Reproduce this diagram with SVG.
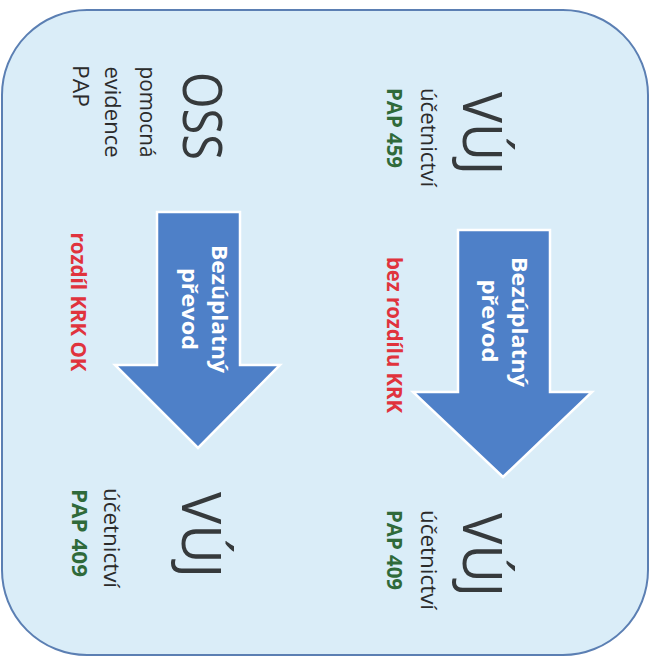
<svg xmlns="http://www.w3.org/2000/svg" width="659" height="663" viewBox="0 0 659 663">
<style>
.t{font-family:"Open Sans","Noto Sans","Liberation Sans",sans-serif;text-anchor:middle}
.big{font-size:55px;fill:#363a3c}
.sm{font-size:22px;fill:#2b2b2b}
.pap{font-size:22px;font-weight:bold;fill:#2f6a3a}
.red{font-size:22px;font-weight:bold;fill:#e0333d}
.wh{font-size:22px;font-weight:bold;fill:#ffffff}
.arrow{fill:#4e80c8;stroke:#ffffff;stroke-width:2.5;stroke-linejoin:miter}
</style>
<rect x="0" y="0" width="659" height="663" fill="#ffffff"/>
<rect id="panel" x="2" y="10" width="646" height="645" rx="85" ry="85" fill="#daedf8" stroke="#5b7fb3" stroke-width="2"/>
<g id="connectors">
<polygon id="arrow-right" class="arrow" points="458,230 550,230 550,392 592,392 503,477 413,392 458,392"/>
<polygon id="arrow-left" class="arrow" points="157,212 240,212 240,365 280,365 198,448 115,365 157,365"/>
<text class="t wh" transform="translate(512,322) rotate(90)" textLength="130" lengthAdjust="spacingAndGlyphs">Bezúplatný</text>
<text class="t wh" transform="translate(482,321) rotate(90)" textLength="83" lengthAdjust="spacingAndGlyphs">převod</text>
<text class="t wh" transform="translate(212,309) rotate(90)" textLength="128" lengthAdjust="spacingAndGlyphs">Bezúplatný</text>
<text class="t wh" transform="translate(182,309) rotate(90)" textLength="82" lengthAdjust="spacingAndGlyphs">převod</text>
<text class="t red" transform="translate(387,335) rotate(90)" textLength="156" lengthAdjust="spacingAndGlyphs">bez rozdílu KRK</text>
<text class="t red" transform="translate(71,302) rotate(90)" textLength="139" lengthAdjust="spacingAndGlyphs">rozdíl KRK OK</text>
</g>
<g id="vuj-top">
<text class="t big" transform="translate(463,133.5) rotate(90)" textLength="83" lengthAdjust="spacingAndGlyphs">VÚJ</text>
<text class="t sm" transform="translate(421,137.5) rotate(90)" textLength="99" lengthAdjust="spacingAndGlyphs">účetnictví</text>
<text class="t pap" transform="translate(387,128) rotate(90)" textLength="80" lengthAdjust="spacingAndGlyphs">PAP 459</text>
</g>
<g id="vuj-right-bottom">
<text class="t big" transform="translate(463,555) rotate(90)" textLength="84" lengthAdjust="spacingAndGlyphs">VÚJ</text>
<text class="t sm" transform="translate(421,560) rotate(90)" textLength="100" lengthAdjust="spacingAndGlyphs">účetnictví</text>
<text class="t pap" transform="translate(387,550) rotate(90)" textLength="80" lengthAdjust="spacingAndGlyphs">PAP 409</text>
</g>
<g id="oss">
<text class="t big" transform="translate(183,116) rotate(90)" textLength="88" lengthAdjust="spacingAndGlyphs">OSS</text>
<text class="t sm" transform="translate(140,112) rotate(90)" textLength="91" lengthAdjust="spacingAndGlyphs">pomocná</text>
<text class="t sm" transform="translate(105,112) rotate(90)" textLength="91" lengthAdjust="spacingAndGlyphs">evidence</text>
<text class="t sm" transform="translate(73,86) rotate(90)" textLength="42" lengthAdjust="spacingAndGlyphs">PAP</text>
</g>
<g id="vuj-left-bottom">
<text class="t big" transform="translate(182,535) rotate(90)" textLength="86" lengthAdjust="spacingAndGlyphs">VÚJ</text>
<text class="t sm" transform="translate(104,538) rotate(90)" textLength="100" lengthAdjust="spacingAndGlyphs">účetnictví</text>
<text class="t pap" transform="translate(72,533) rotate(90)" textLength="88" lengthAdjust="spacingAndGlyphs">PAP 409</text>
</g>
</svg>
